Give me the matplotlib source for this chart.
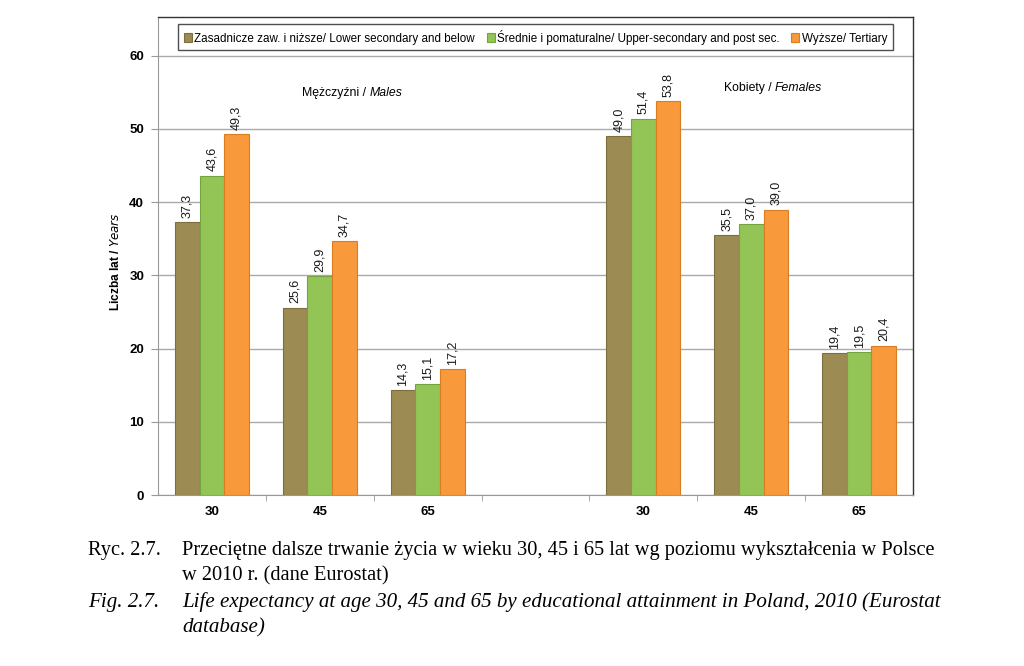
import numpy as np
import matplotlib
matplotlib.use("Agg")
import matplotlib.pyplot as plt
from matplotlib.ticker import FixedLocator

ages = ["30", "45", "65"]
series = ["Zasadnicze zaw. i niższe/ Lower secondary and below",
          "Średnie i pomaturalne/ Upper-secondary and post sec.",
          "Wyższe/ Tertiary"]
males = [[37.3, 25.6, 14.3],
         [43.6, 29.9, 15.1],
         [49.3, 34.7, 17.2]]
females = [[49.0, 35.5, 19.4],
           [51.4, 37.0, 19.5],
           [53.8, 39.0, 20.4]]
colors = ["#9c8b52", "#92c556", "#f89a3c"]
edges = ["#7d6e3e", "#74a33f", "#d97d22"]

plt.rcParams['font.family'] = ['Liberation Sans', 'DejaVu Sans']

fig = plt.figure(figsize=(10.24, 6.66), dpi=100)
ax = fig.add_axes([158 / 1024, 1 - 495 / 666, (913 - 158) / 1024, (495 - 17) / 666])

x_m = np.arange(3)
x_f = np.arange(3) + 4
width = 0.228
offsets = [-width, 0, width]

for i in range(3):
    for xs, vals in [(x_m, males[i]), (x_f, females[i])]:
        bars = ax.bar(xs + offsets[i], vals, width, color=colors[i], edgecolor=edges[i],
                      linewidth=0.8, label=series[i] if xs[0] == 0 else None, zorder=3)
        for b, v in zip(bars, vals):
            ax.text(b.get_x() + b.get_width() / 2, v + 0.6, f"{v:.1f}".replace(".", ","),
                    rotation=90, ha="center", va="bottom", fontsize=9, color="#1a1a1a")

ax.set_xlim(-0.5, 6.5)
ax.set_ylim(0, 65.3)
ax.set_yticks(range(0, 61, 10))
ax.set_xticks(list(x_m) + list(x_f))
ax.set_xticklabels(ages + ages, fontweight="bold", fontsize=9.5)
ax.xaxis.set_minor_locator(FixedLocator(np.arange(0.5, 6.5, 1)))
ax.tick_params(axis="x", which="major", length=0, pad=8)
ax.tick_params(axis="x", which="minor", length=4, color="#999999", direction="out")
ax.tick_params(axis="y", length=5, color="#999999", labelsize=9.5, pad=5)
for lab in ax.get_yticklabels():
    lab.set_fontweight("bold")

ax.grid(True, axis="y", color="#aaaaaa", linewidth=1.0, zorder=0)
ax.set_axisbelow(True)
for s in ["top", "right"]:
    ax.spines[s].set_color("#333333")
    ax.spines[s].set_linewidth(1.0)
ax.spines["left"].set_color("#999999")
ax.spines["bottom"].set_color("#999999")

ax.set_ylabel(r"Liczba lat / $\it{Years}$", fontsize=8.6, fontweight="bold")
ax.yaxis.set_label_coords(-36 / 755, (495 - 262) / 478)

ax.text(1.46, 54.9, "Mężczyźni / ", ha="right", va="center", fontsize=8.8)
ax.text(1.46, 54.9, "Males", ha="left", va="center", fontsize=8.8, style="italic")
ax.text(5.22, 55.6, "Kobiety / ", ha="right", va="center", fontsize=8.8)
ax.text(5.22, 55.6, "Females", ha="left", va="center", fontsize=8.8, style="italic")

leg = ax.legend(loc="upper center", bbox_to_anchor=(0.5, 0.997), ncol=3, fontsize=8.4,
                frameon=True, fancybox=False, edgecolor="#222222", handlelength=0.7,
                handleheight=0.7, handletextpad=0.2, columnspacing=1.0, borderpad=0.45)
leg.get_frame().set_linewidth(1.0)

serif = ['Liberation Serif', 'DejaVu Serif']
fs = 14.7
fs_it = 15.1
fig.text(88 / 1024, 1 - 550 / 666, "Ryc. 2.7.", family=serif, fontsize=fs, va="center")
fig.text(182 / 1024, 1 - 550 / 666,
         "Przeciętne dalsze trwanie życia w wieku 30, 45 i 65 lat wg poziomu wykształcenia w Polsce",
         family=serif, fontsize=fs, va="center")
fig.text(182 / 1024, 1 - 576 / 666, "w 2010 r. (dane Eurostat)", family=serif, fontsize=fs, va="center")
fig.text(88 / 1024, 1 - 602 / 666, "Fig. 2.7.", family=serif, fontsize=fs_it, va="center", style="italic")
fig.text(182 / 1024, 1 - 602 / 666,
         "Life expectancy at age 30, 45 and 65 by educational attainment in Poland, 2010 (Eurostat",
         family=serif, fontsize=fs_it, va="center", style="italic")
fig.text(182 / 1024, 1 - 628 / 666, "database)", family=serif, fontsize=fs_it, va="center", style="italic")

fig.savefig("out.png", dpi=100)
